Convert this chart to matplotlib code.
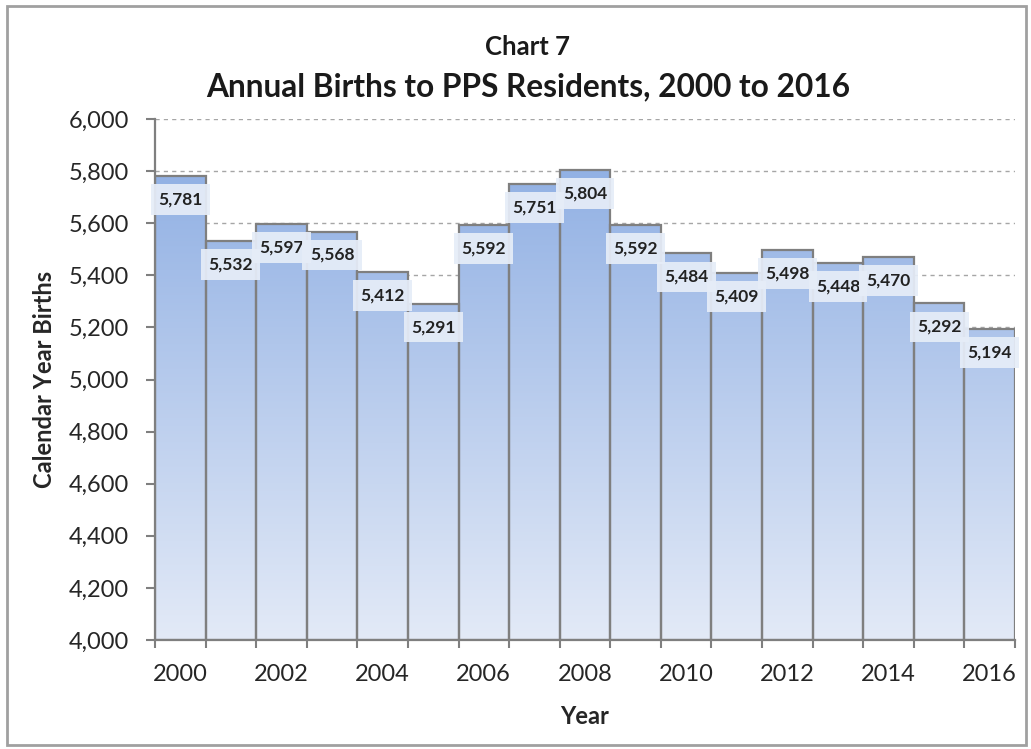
import matplotlib
matplotlib.use("Agg")
import matplotlib.pyplot as plt
import numpy as np
from matplotlib.patches import Rectangle

plt.rcParams['font.family'] = ['Lato', 'DejaVu Sans']

years = list(range(2000, 2017))
births = [5781, 5532, 5597, 5568, 5412, 5291, 5592, 5751, 5804, 5592,
          5484, 5409, 5498, 5448, 5470, 5292, 5194]
yticks = [4000, 4200, 4400, 4600, 4800, 5000, 5200, 5400, 5600, 5800, 6000]
xtick_years = list(range(2000, 2017, 2))

fig = plt.figure(figsize=(10.31, 7.49), dpi=100)
ax = fig.add_axes([0.1503, 0.1455, 0.8342, 0.6956])

ymin, ymax = 4000, 6000
ax.set_xlim(years[0] - 0.5, years[-1] + 0.5)
ax.set_ylim(ymin, ymax)

# gradient fill per bar
top_c = np.array([146, 177, 228]) / 255
bot_c = np.array([227, 234, 247]) / 255
for x, v in zip(years, births):
    frac_top = (v - ymin) / (ymax - ymin)
    tt = np.clip(np.linspace(0, frac_top, 256)[:, None] / 0.9, 0, 1)
    grad = bot_c[None, :] * (1 - tt) + top_c[None, :] * tt
    ax.imshow(grad[:, None, :], extent=[x - 0.5, x + 0.5, ymin, v], origin='lower',
              aspect='auto', zorder=2, interpolation='bilinear')

ax.bar(years, [v - ymin for v in births], bottom=ymin, width=1.0, fill=False,
       edgecolor='#7f7f7f', linewidth=1.6, zorder=3)

for x, v in zip(years, births):
    ax.text(x, v - 90, f"{v:,}", ha='center', va='center', fontsize=12.5,
            fontweight='bold', color='#222222', zorder=5,
            bbox=dict(boxstyle='square,pad=0.42', facecolor='#e6edf8',
                      edgecolor='none', alpha=0.93))

ax.set_yticks(yticks)
ax.set_yticklabels([f"{v:,}" for v in yticks])
ax.set_xticks(xtick_years)
ax.set_xticklabels([str(y) for y in xtick_years])
ax.set_xticks([y - 0.5 for y in years] + [years[-1] + 0.5], minor=True)
ax.tick_params(axis='x', which='major', length=0, pad=17, labelsize=17, colors='#262626')
ax.tick_params(axis='x', which='minor', length=6, width=1.5, color='#7f7f7f')
ax.tick_params(axis='y', which='major', length=6.5, width=1.5, color='#7f7f7f',
               labelsize=17, labelcolor='#262626', pad=12)

ax.grid(axis='y', linestyle=(0, (3, 3)), color='#a6a6a6', linewidth=1, zorder=0)
ax.set_axisbelow(True)
for s in ['top', 'right']:
    ax.spines[s].set_visible(False)
for s in ['left', 'bottom']:
    ax.spines[s].set_color('#7f7f7f')
    ax.spines[s].set_linewidth(1.6)
    ax.spines[s].set_zorder(4)

ax.set_xlabel('Year', fontsize=17, fontweight='bold', color='#262626')
ax.set_ylabel('Calendar Year Births', fontsize=17, fontweight='bold', color='#262626')
ax.xaxis.set_label_coords(0.5, -0.146)
ax.yaxis.set_label_coords(-0.128, 0.5)
ax.xaxis.label.set_va('center')
ax.yaxis.label.set_va('center')

fig.text(0.512, 0.937, 'Chart 7', ha='center', va='center', fontsize=18.5,
         fontweight='bold', color='#1a1a1a')
fig.text(0.512, 0.884, 'Annual Births to PPS Residents, 2000 to 2016', ha='center',
         va='center', fontsize=22.8, fontweight='bold', color='#1a1a1a')

fig.patches.append(Rectangle((0.007, 0.006), 0.988, 0.986, transform=fig.transFigure,
                             fill=False, edgecolor='#a0a0a0', linewidth=2))

fig.savefig('out.png', dpi=100, facecolor='white')
